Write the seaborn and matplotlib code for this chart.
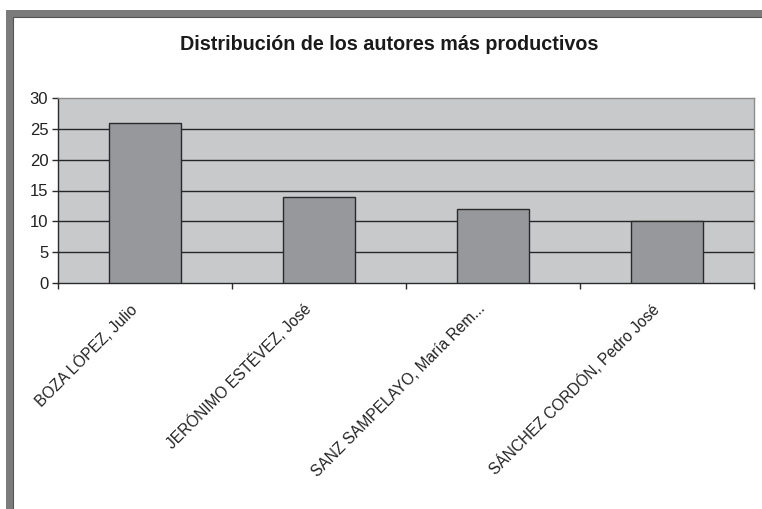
import matplotlib
matplotlib.use("Agg")
import matplotlib.pyplot as plt
import matplotlib.transforms as mtransforms
from matplotlib.patches import Rectangle
import numpy as np
import pandas as pd
import seaborn as sns

# Publications per author
authors = [
    "BOZA LÓPEZ, Julio",
    "JERÓNIMO ESTÉVEZ, José",
    "SANZ SAMPELAYO, María Rem...",
    "SÁNCHEZ CORDÓN, Pedro José",
]
counts = [26, 14, 12, 10]
y_ticks = [0, 5, 10, 15, 20, 25, 30]
title = "Distribución de los autores más productivos"

df = pd.DataFrame({"autor": authors, "n": counts})

sns.set_theme(style="white")
plt.rcParams["font.family"] = ["Liberation Sans", "DejaVu Sans"]

fig = plt.figure(figsize=(7.62, 5.09), dpi=100)
W, H = 762, 509

# Outer window frame (top and left bands)
frame_col = "#7b7b7b"
fig.patches.append(Rectangle((6 / W, 1 - 17 / H), 1 - 6 / W, 7 / H,
                             transform=fig.transFigure, facecolor=frame_col,
                             edgecolor="none", zorder=0))
fig.patches.append(Rectangle((6 / W, 0), 7 / W, 1 - 10 / H,
                             transform=fig.transFigure, facecolor=frame_col,
                             edgecolor="none", zorder=0))
fig.add_artist(plt.Line2D([13 / W, 1], [1 - 17 / H, 1 - 17 / H],
                          transform=fig.transFigure, color="#555555", lw=0.8))
fig.add_artist(plt.Line2D([13 / W, 13 / W], [0, 1 - 17 / H],
                          transform=fig.transFigure, color="#555555", lw=0.8))

ax = fig.add_axes([58 / W, 1 - 283 / H, 696 / W, 185 / H])
ax.set_facecolor("#c8c9cb")

sns.barplot(data=df, x="autor", y="n", ax=ax, color="#97989c",
            width=0.41, edgecolor="#2a2a2a", linewidth=1.0, saturation=1,
            zorder=3)

ax.set_xlim(-0.5, len(authors) - 0.5)
ax.set_ylim(0, 30)
ax.set_yticks(y_ticks)
ax.set_xlabel("")
ax.set_ylabel("")

# Horizontal gridlines
for v in y_ticks[1:-1]:
    ax.axhline(v, color="#262626", lw=1.0, zorder=1)

for side in ["top", "right"]:
    ax.spines[side].set_color("#8c8c8c")
    ax.spines[side].set_linewidth(1.0)
for side in ["left", "bottom"]:
    ax.spines[side].set_color("#2b2b2b")
    ax.spines[side].set_linewidth(1.0)
    ax.spines[side].set_visible(True)

ax.tick_params(axis="y", which="major", direction="out", length=4, width=1,
               color="#2b2b2b", labelsize=12, pad=3, left=True)
ax.set_yticklabels([str(v) for v in y_ticks], color="#222222")

# Category separators as ticks, labels at category centres
ax.set_xticks(np.arange(-0.5, len(authors), 1.0), minor=True)
ax.tick_params(axis="x", which="minor", direction="out", length=4, width=1,
               color="#2b2b2b", bottom=True)
ax.tick_params(axis="x", which="major", length=0, pad=2, labelsize=11.2)
ax.set_xticks(range(len(authors)))
ax.set_xticklabels(authors, rotation=45, ha="right", va="top",
                   rotation_mode="anchor", color="#222222")
offset = mtransforms.ScaledTranslation(-16 / 100, -15 / 100, fig.dpi_scale_trans)
for lbl in ax.get_xticklabels():
    lbl.set_transform(lbl.get_transform() + offset)

fig.text(389 / W, 1 - 45 / H, title, ha="center", va="center",
         fontsize=14.2, fontweight="bold", color="#1a1a1a")

fig.savefig("out.png", dpi=100, facecolor="white")
